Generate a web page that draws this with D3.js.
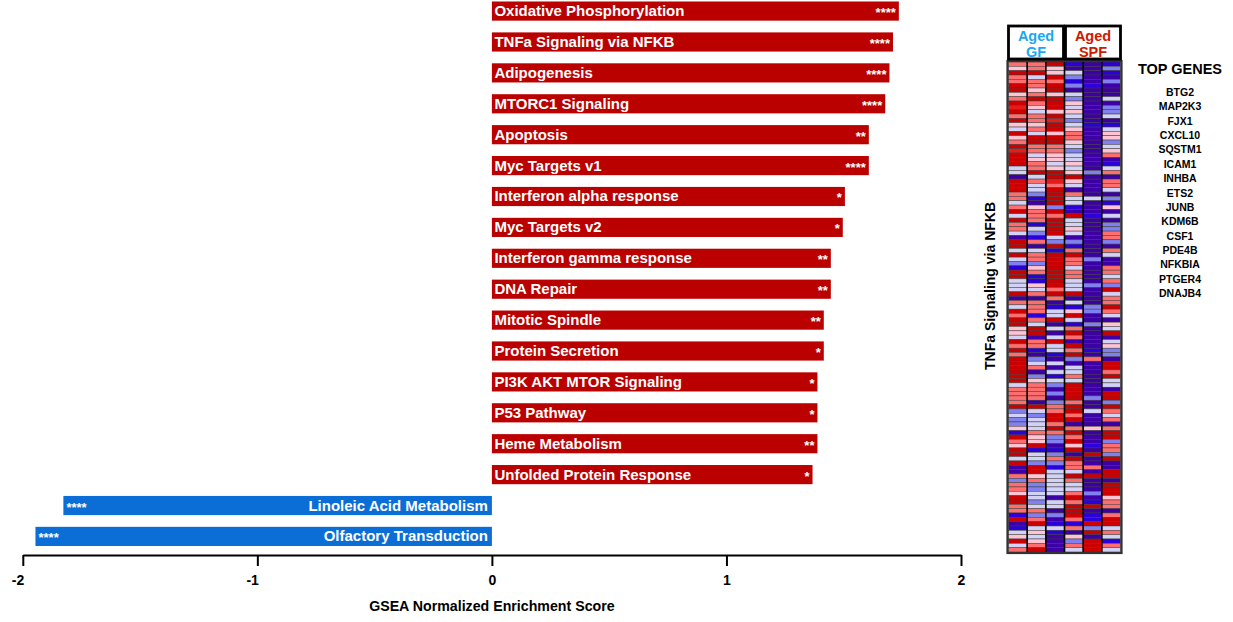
<!DOCTYPE html>
<html>
<head>
<meta charset="utf-8">
<script src="https://cdn.jsdelivr.net/npm/d3@7"></script>
<style>
  html, body { margin: 0; padding: 0; background: #fff; }
  svg { display: block; font-family: "Liberation Sans", Arial, sans-serif; font-weight: bold; }
</style>
</head>
<body>
<svg id="chart" width="1233" height="622"></svg>
<script>
// Hallmark / KEGG pathways and their GSEA normalized enrichment scores
const pathways = [
  "Oxidative Phosphorylation", "TNFa Signaling via NFKB", "Adipogenesis", "MTORC1 Signaling",
  "Apoptosis", "Myc Targets v1", "Interferon alpha response", "Myc Targets v2",
  "Interferon gamma response", "DNA Repair", "Mitotic Spindle", "Protein Secretion",
  "PI3K AKT MTOR Signaling", "P53 Pathway", "Heme Metabolism", "Unfolded Protein Response",
  "Linoleic Acid Metabolism", "Olfactory Transduction"
];
const nes = [
  1.735, 1.71, 1.695, 1.677,
  1.607, 1.607, 1.505, 1.496,
  1.445, 1.445, 1.415, 1.415,
  1.388, 1.388, 1.388, 1.367,
  -1.827, -1.946
];
const significance = [
  "****", "****", "****", "****",
  "**", "****", "*", "*",
  "**", "**", "**", "*",
  "*", "*", "**", "*",
  "****", "****"
];
const nesTicks = [-2, -1, 0, 1, 2];

// Leading-edge expression (row z-score, in half-SD steps) for TNFa Signaling via NFKB
const groups = ["Aged GF", "Aged SPF"];
const samples = ["GF1", "GF2", "GF3", "SPF1", "SPF2", "SPF3"];
const gf1 = [2,1,4,2,2,4,4,1,2,4,3,4,2,4,1,-1,4,1,2,4,3,4,4,4,-1,-1,-4,4,
  4,4,2,2,-1,2,4,-1,4,2,2,-1,-4,4,4,-1,4,-1,-2,-3,4,4,-1,-1,-1,4,-4,2,-1,
  4,2,4,4,1,1,-1,4,2,4,2,4,4,4,4,4,4,-1,2,2,2,2,4,-2,-1,-2,-2,1,-3,
  4,2,1,4,4,-1,4,-4,-4,2,-2,2,2,1,4,4,2,2,-3,4,-4,-3,-1,1,4,-1,2];
const gf2 = [2,2,4,-1,2,2,1,2,4,2,1,-1,2,2,1,2,-1,4,4,2,2,-1,1,2,2,4,-1,2,
  -1,-1,-2,-3,-4,1,2,2,2,-3,-1,-2,-3,2,-4,-1,2,2,-2,1,2,-3,-3,1,-1,2,-4,2,2,
  2,-3,2,-1,4,4,-4,2,2,-3,-4,-2,-1,2,-4,-2,1,2,2,2,2,-4,4,-1,-2,-1,-1,-1,2,
  1,1,4,-3,-1,-1,-2,4,4,1,2,-2,-2,-1,-1,-2,-1,2,-2,2,4,-1,1,-1,1,2,4];
const gf3 = [4,1,1,4,2,4,4,1,4,4,4,1,4,3,4,4,1,4,4,2,2,1,1,-1,1,4,4,3,
  2,4,4,4,4,-2,4,2,4,4,4,4,-1,-2,4,-3,4,4,4,4,4,4,4,4,2,4,2,-4,-3,
  -1,-1,4,-4,-1,-4,-1,4,-1,-1,-3,-4,-1,-4,-1,-3,-1,-2,-4,-2,-4,-2,2,2,4,4,2,4,2,
  -2,-2,-4,-3,-2,2,-2,-3,-1,-1,-1,-1,-1,-1,-4,-1,-1,-4,-2,-4,-3,-1,-3,-4,-4,-4,-4];
const spf1 = [-3,-4,-1,-2,-3,-2,-4,-1,-2,1,-1,1,-1,-2,-1,1,2,2,1,-1,-2,-1,-1,1,-1,1,4,1,
  -1,-4,2,-1,-1,-3,-4,4,-1,-1,1,-1,-4,-2,-3,2,4,2,2,-1,2,2,-1,-1,-1,4,-4,-1,-3,
  1,4,-1,-3,2,4,2,-4,4,2,4,-2,-4,-1,-1,2,-1,4,4,4,4,2,4,4,2,4,-4,2,4,
  2,4,1,4,-4,4,2,2,-1,4,2,-1,-1,2,4,2,4,4,4,2,-3,2,-4,1,-2,2,-1];
const spf2 = [-4,-4,-4,-4,-4,-3,-4,-4,-4,-4,-4,-4,-4,-4,-3,-4,-4,-4,-4,-4,-4,-4,-4,-4,-4,-2,-4,-4,
  -4,-4,-4,-1,-4,-4,-4,-3,-4,-4,-4,-4,-4,-4,-4,-4,-4,-2,-4,-4,-4,-4,-4,-2,-4,-4,-4,-4,-2,
  -2,-4,-4,-2,-4,-4,-4,-4,-4,-3,-4,2,-4,-4,-4,-4,-4,-4,-4,-4,-2,-4,-4,-1,-4,-4,-4,1,-4,
  -4,-4,-3,-4,4,-4,-4,2,-4,4,-4,-4,-4,-2,-4,-3,4,-4,-3,-3,4,-2,4,-4,4,4,4];
const spf3 = [-3,-2,-3,-4,-2,-4,-4,-4,-1,-4,-2,-2,-1,-4,-3,-1,1,1,-2,-1,1,2,-4,-3,-1,2,-4,2,
  2,-1,-4,-2,-3,1,-4,-1,-4,-2,-2,2,2,-2,-4,2,-1,-4,-4,2,2,-1,2,-2,4,-1,2,2,4,
  2,-1,-4,1,-1,4,-4,-1,1,-2,-2,-4,4,4,2,4,-1,-1,-4,4,4,-2,4,2,-1,2,-4,2,4,
  4,-2,2,2,-2,4,-4,-4,4,4,-4,4,4,4,1,2,2,-4,2,4,4,-1,2,-1,-3,2,-1];
const topGenes = ["BTG2", "MAP2K3", "FJX1", "CXCL10", "SQSTM1", "ICAM1", "INHBA", "ETS2",
  "JUNB", "KDM6B", "CSF1", "PDE4B", "NFKBIA", "PTGER4", "DNAJB4"];

const svg = d3.select("#chart");

// ---------- enrichment bar chart ----------
const x = d3.scaleLinear().domain([-2, 2]).range([22.8, 961]);
const y = d3.scaleBand().domain(pathways).range([1.5, 546]).paddingInner(0.38).paddingOuter(0);

const bars = svg.append("g").attr("class", "bars");
const rows = bars.selectAll("g").data(pathways.map((p, i) => ({ p, v: nes[i], s: significance[i] })))
  .join("g");

rows.append("rect")
  .attr("x", d => x(Math.min(0, d.v)))
  .attr("y", d => y(d.p))
  .attr("width", d => Math.abs(x(d.v) - x(0)))
  .attr("height", y.bandwidth())
  .attr("fill", d => d.v > 0 ? "#bb0000" : "#0a6ed6");

rows.append("text")
  .attr("x", d => d.v > 0 ? x(0) + 2.5 : x(0) - 4)
  .attr("y", d => y(d.p) + y.bandwidth() / 2 + 5)
  .attr("text-anchor", d => d.v > 0 ? "start" : "end")
  .attr("fill", "#fff")
  .attr("font-size", 15)
  .text(d => d.p);

rows.append("text")
  .attr("x", d => d.v > 0 ? x(d.v) - 3 : x(d.v) + 3)
  .attr("y", d => y(d.p) + y.bandwidth() / 2 + 6)
  .attr("text-anchor", d => d.v > 0 ? "end" : "start")
  .attr("fill", "#fff")
  .attr("font-size", 13)
  .text(d => d.s);

// x axis
const axis = svg.append("g")
  .attr("transform", "translate(0,555)")
  .call(d3.axisBottom(x).tickValues(nesTicks).tickFormat(d => String(d))
    .tickSizeInner(11).tickSizeOuter(0).tickPadding(9));
axis.select(".domain").attr("stroke", "#000").attr("stroke-width", 2);
axis.selectAll(".tick line").attr("stroke", "#000").attr("stroke-width", 2);
axis.selectAll(".tick text")
  .attr("fill", "#000")
  .attr("font-size", 14)
  .attr("font-family", "'Liberation Sans', Arial, sans-serif")
  .attr("font-weight", "bold")
  .attr("text-anchor", d => d < 0 ? "end" : "middle")
  .attr("dx", d => d < 0 ? 1 : 0);

svg.append("text")
  .attr("x", x(0))
  .attr("y", 611)
  .attr("text-anchor", "middle")
  .attr("font-size", 14.2)
  .text("GSEA Normalized Enrichment Score");

// ---------- leading-edge heatmap ----------
const columns = [gf1, gf2, gf3, spf1, spf2, spf3];
const nRows = gf1.length;
const hx = d3.scaleBand().domain(samples).range([1008.5, 1120.5]);
const hy = d3.scaleBand().domain(d3.range(nRows)).range([62, 552]);
const color = d3.scaleLinear()
  .domain([-4, -3, -2, -1, 0, 1, 2, 3, 4])
  .range(["#3c00a6", "#2a00dc", "#8080ee", "#d2d2f6", "#f4eef6", "#ffc4d4", "#ff6e6e", "#e41c1c", "#cc0000"]);

const heat = svg.append("g").attr("class", "heatmap");
const cells = [];
columns.forEach((col, c) => col.forEach((v, r) => cells.push({ s: samples[c], r, v })));

heat.selectAll("rect.cell").data(cells).join("rect")
  .attr("class", "cell")
  .attr("x", d => hx(d.s))
  .attr("y", d => hy(d.r))
  .attr("width", hx.bandwidth())
  .attr("height", hy.bandwidth())
  .attr("fill", d => color(d.v))
  .attr("stroke", "#3a3a3a")
  .attr("stroke-width", 0.5);

// column separators
heat.selectAll("line.sep").data(samples.slice(1)).join("line")
  .attr("class", "sep")
  .attr("x1", d => hx(d)).attr("x2", d => hx(d))
  .attr("y1", 62).attr("y2", 552)
  .attr("stroke", "#000")
  .attr("stroke-width", 1.6);

// frame
heat.append("rect")
  .attr("x", hx.range()[0] - 1).attr("y", 61)
  .attr("width", hx.range()[1] - hx.range()[0] + 2).attr("height", 492)
  .attr("fill", "none").attr("stroke", "#333").attr("stroke-width", 2.2);

// group header boxes
const groupCols = [samples.slice(0, 3), samples.slice(3)];
const groupColor = ["#1aa8f0", "#cc1a00"];
const head = svg.append("g");
groups.forEach((g, i) => {
  const x0 = hx(groupCols[i][0]) - (i === 0 ? 0 : -1);
  const x1 = hx(groupCols[i][2]) + hx.bandwidth() - (i === 0 ? 1 : 0);
  head.append("rect")
    .attr("x", x0).attr("y", 26)
    .attr("width", x1 - x0).attr("height", 33)
    .attr("fill", "#fff").attr("stroke", "#000").attr("stroke-width", 2.8);
  const words = g.split(" ");
  head.append("text")
    .attr("x", (x0 + x1) / 2).attr("y", 40.5)
    .attr("text-anchor", "middle").attr("font-size", 14.5)
    .attr("fill", groupColor[i]).text(words[0]);
  head.append("text")
    .attr("x", (x0 + x1) / 2).attr("y", 56.5)
    .attr("text-anchor", "middle").attr("font-size", 14.5)
    .attr("fill", groupColor[i]).text(words[1]);
});

// gene set label
svg.append("text")
  .attr("transform", "translate(995,286) rotate(-90)")
  .attr("text-anchor", "middle")
  .attr("font-size", 14)
  .text("TNFa Signaling via NFKB");

// top genes list
svg.append("text")
  .attr("x", 1180).attr("y", 74)
  .attr("text-anchor", "middle").attr("font-size", 14.5)
  .text("TOP GENES");

const gy = d3.scalePoint().domain(topGenes).range([96, 297]);
svg.append("g").selectAll("text").data(topGenes).join("text")
  .attr("x", 1180)
  .attr("y", d => gy(d))
  .attr("text-anchor", "middle")
  .attr("font-size", 10.5)
  .text(d => d);
</script>
</body>
</html>
